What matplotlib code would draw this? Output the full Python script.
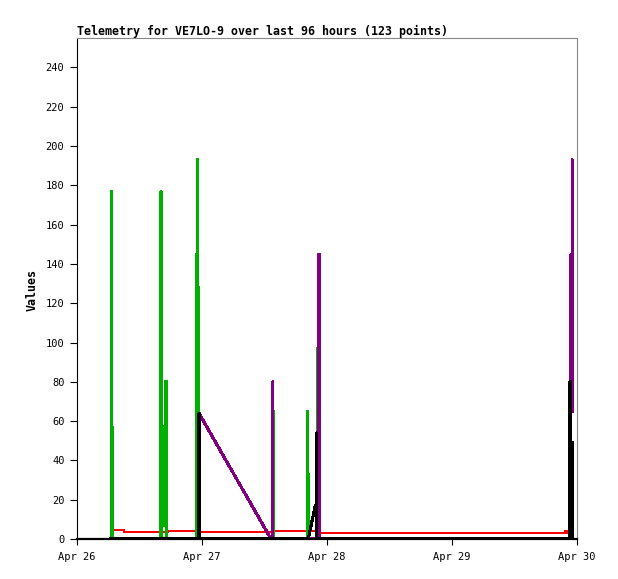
import matplotlib
matplotlib.use("Agg")
import matplotlib.pyplot as plt

plt.rcParams['font.family'] = ['DejaVu Sans Mono']
plt.rcParams['path.simplify'] = False

# hours after Apr 26 00:00
day_hours = [0, 24, 48, 72, 96]
day_labels = ["Apr 26", "Apr 27", "Apr 28", "Apr 29", "Apr 30"]
value_ticks = list(range(0, 241, 20))

red_t = [6.66, 9.02, 13.7, 17.47, 22.98, 37.38, 46.27, 93.7, 94.1, 94.66]
red_v = [4.5, 3.8, 3.4, 4.1, 3.4, 4.1, 3.2, 3.9, 3.2, 3.2]

green_t = [6.5, 6.55, 6.55, 6.55, 6.75, 6.75, 6.75,
           16.13, 16.13, 16.2, 16.3, 16.38, 16.55, 16.65, 16.8, 16.95, 17.2, 17.2,
           22.9, 22.9, 23.05, 23.05, 23.2, 23.2, 23.3, 23.3,
           37.75, 37.75, 37.75, 37.75,
           44.3, 44.3, 44.3, 44.45, 44.45, 44.45,
           46.15, 46.15, 46.15, 46.15, 95.2]
green_v = [0, 0, 177, 0, 0, 57, 0,
           0, 177, 64, 58, 32, 45, 20, 7, 80, 80, 0,
           0, 145, 145, 193, 193, 128, 128, 0,
           0, 65, 41, 0,
           0, 65, 0, 0, 33, 0,
           0, 97, 72, 0, 0]

purple_t = [6.5, 23.42, 23.42, 37.25, 37.55, 37.55, 37.55,
            46.4, 46.4, 46.4, 46.5, 46.5, 46.5,
            94.7, 94.7, 94.7, 94.85, 94.85, 95.05, 95.05, 95.05]
purple_v = [0, 0, 64, 0, 0, 80, 0,
            0, 145, 0, 0, 145, 0,
            0, 121, 80, 80, 145, 145, 193, 65]

black_t = [6.5, 23.42, 23.42, 23.42, 44.4, 45.75, 46.0, 46.0, 46.0,
           94.6, 94.6, 94.6, 94.75, 94.75, 94.75, 95.2, 95.2, 95.2]
black_v = [0, 0, 64, 0, 0, 17, 17, 54, 0,
           0, 80, 0, 0, 80, 0, 0, 49, 0]

fig = plt.figure(figsize=(6.18, 5.79), dpi=100)
ax = fig.add_axes([77/618, 40/579, 500/618, 501/579])

lw = 1.5
ax.plot(red_t, red_v, color='#ff0000', lw=1.4, drawstyle='steps-post', antialiased=False)
ax.plot(green_t, green_v, color='#00b000', lw=lw, antialiased=False)
ax.plot(purple_t, purple_v, color='#800080', lw=lw, antialiased=False)
ax.plot(black_t, black_v, color='#000000', lw=lw, antialiased=False)

ax.set_xlim(0, 96)
ax.set_ylim(0, 255)
ax.set_xticks(day_hours)
ax.set_xticklabels(day_labels)
ax.set_yticks(value_ticks)

for s in ['top', 'right']:
    ax.spines[s].set_color('#888888')
    ax.spines[s].set_linewidth(0.8)
ax.spines['left'].set_color('black')
ax.spines['left'].set_linewidth(0.8)
ax.spines['bottom'].set_color('black')
ax.spines['bottom'].set_linewidth(1.6)
ax.spines['bottom'].set_zorder(5)

ax.tick_params(axis='y', direction='out', length=5, width=0.8, labelsize=7.5, pad=4)
ax.tick_params(axis='x', direction='out', length=4.5, width=0.8, labelsize=7.5, pad=5)

fig.text(77/618, 1 - 31/579, "Telemetry for VE7LO-9 over last 96 hours (123 points)",
         ha='left', va='center', fontsize=8.4, fontweight='bold')
fig.text(32/618, 1 - 290/579, "Values", rotation=90, ha='center', va='center',
         fontsize=8.4, fontweight='bold')

fig.savefig('out.png', dpi=100)
